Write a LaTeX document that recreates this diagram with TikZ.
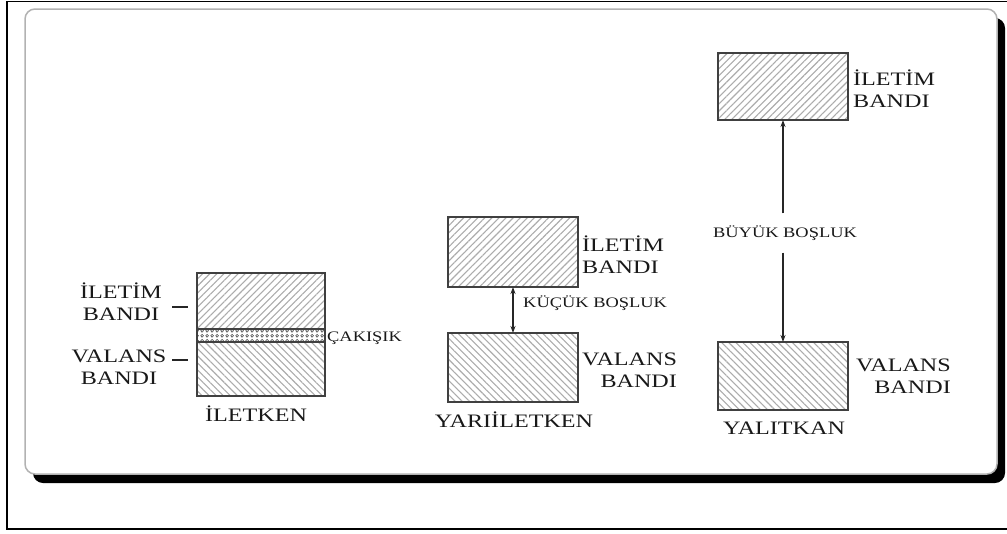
\documentclass[tikz,border=0pt]{standalone}
\usepackage{fontspec}
\setmainfont{Liberation Serif}[FakeStretch=1.27]
\usetikzlibrary{patterns.meta,arrows.meta}
\tikzdeclarepattern{name=chain, type=uncolored, bottom left={(0pt,0pt)}, top right={(5pt,5pt)}, tile size={(5pt,5pt)},
  code={\draw[line width=0.7pt] (2.5pt,2.5pt) circle (1.6pt);}}
\begin{document}
\begin{tikzpicture}[x=1pt,y=-1pt,
  band/.style={draw=gray!50!black, line width=1.6pt, inner sep=0pt, outer sep=0pt, minimum width=130pt},
  upband/.style={band, pattern={Lines[angle=45,distance=5pt,line width=1.1pt]}, pattern color=gray!65},
  downband/.style={band, pattern={Lines[angle=-45,distance=5pt,line width=1.1pt]}, pattern color=gray!65},
  big/.style={font=\fontsize{19}{22}\selectfont, text=black!90, inner sep=0pt},
  small/.style={font=\fontsize{14.5}{17}\selectfont, text=black!90, inner sep=0pt},
  arr/.style={draw=gray!30!black, line width=1.2pt, -{Stealth[length=7pt,width=5pt]}}
]
\useasboundingbox (0,0) rectangle (1007,533);
% outer frame
\draw[line width=1.6pt] (1012,1.5) -- (7,1.5) -- (7,529) -- (1012,529);
% panel with shadow
\fill[black, rounded corners=10pt] (33,18) rectangle (1005,483);
\draw[gray!60, line width=1.5pt, fill=white, rounded corners=10pt] (25,9) rectangle (997,474);

% ---- conductor ----
\node[upband, minimum width=128pt, minimum height=56pt] (c-cb) at (261,301) {};
\node[band, minimum width=128pt, minimum height=13pt, pattern=chain, pattern color=gray!55!black] (c-ov) at (261,335.5) {};
\node[downband, minimum width=128pt, minimum height=54pt] (c-vb) at (261,369) {};
\node[big, align=center] (c-cbl) at (121,302) {İLETİM\\BANDI};
\node[big, align=center] (c-vbl) at (119,367) {VALANS\\BANDI};
\draw[line width=1.5pt, gray!30!black] (172,307) -- (188,307);
\draw[line width=1.5pt, gray!30!black] (172,360) -- (188,360);
\node[small, anchor=west] (c-ovl) at (327,338) {ÇAKIŞIK};
\node[big] (c-name) at (256,414) {İLETKEN};

% ---- semiconductor ----
\node[upband, minimum height=70pt] (s-cb) at (513,252) {};
\node[downband, minimum height=69pt] (s-vb) at (513,367.5) {};
\draw[arr, {Stealth[length=7pt,width=5pt]}-{Stealth[length=7pt,width=5pt]}] (s-cb.south) -- (s-vb.north);
\node[small, anchor=west] (s-gap) at (523,303) {KÜÇÜK BOŞLUK};
\node[big, align=left, anchor=west] (s-cbl) at (582,255) {İLETİM\\BANDI};
\node[big, align=right, anchor=west] (s-vbl) at (582,370) {VALANS\\BANDI};
\node[big] (s-name) at (514,420) {YARIİLETKEN};

% ---- insulator ----
\node[upband, minimum height=67pt] (i-cb) at (783,86.5) {};
\node[downband, minimum height=68pt] (i-vb) at (783,376) {};
\node[small, minimum height=39pt] (i-gap) at (785,233) {BÜYÜK BOŞLUK};
\draw[arr] (i-gap.north -| i-cb.south) -- (i-cb.south);
\draw[arr] (i-gap.south -| i-vb.north) -- (i-vb.north);
\node[big, align=left, anchor=west] (i-cbl) at (853,89) {İLETİM\\BANDI};
\node[big, align=right, anchor=east] (i-vbl) at (951,376) {VALANS\\BANDI};
\node[big] (i-name) at (784,428) {YALITKAN};
\end{tikzpicture}
\end{document}
